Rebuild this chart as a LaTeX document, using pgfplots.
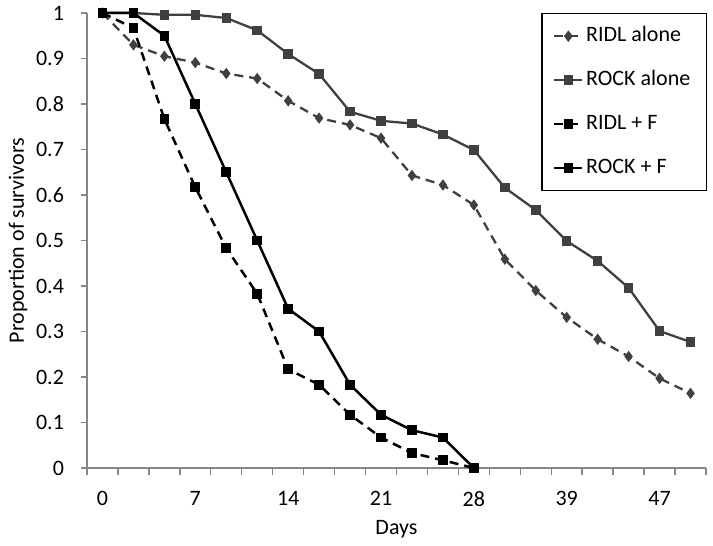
\documentclass[border=0pt]{standalone}
\usepackage{fontspec}
\setmainfont{Carlito}
\usepackage{pgfplots}
\pgfplotsset{compat=1.18}
\definecolor{axgray}{HTML}{868686}
\definecolor{sergray}{HTML}{404040}
\begin{document}
\begin{tikzpicture}[font=\fontsize{11pt}{13pt}\selectfont]
\begin{axis}[
  scale only axis,
  width=309.5pt, height=227.5pt,
  xmin=-0.5, xmax=19.5, ymin=0, ymax=1,
  axis x line=bottom, axis y line=left,
  axis line style={-, axgray, line width=0.7pt},
  xtick={0,3,6,9,12,15,18},
  xticklabels={0,7,14,21,28,39,47},
  minor xtick={-0.5,0.5,1.5,2.5,3.5,4.5,5.5,6.5,7.5,8.5,9.5,10.5,11.5,12.5,13.5,14.5,15.5,16.5,17.5,18.5,19.5},
  major x tick style={draw=none},
  minor x tick style={axgray, line width=0.7pt},
  ytick={0,0.1,0.2,0.3,0.4,0.5,0.6,0.7,0.8,0.9,1.0},
  yticklabels={0,0.1,0.2,0.3,0.4,0.5,0.6,0.7,0.8,0.9,1},
  y tick style={axgray, line width=0.7pt},
  tick align=outside,
  minor tick length=3.5pt,
  major tick length=3pt,
  tick label style={font=\fontsize{11pt}{13pt}\selectfont, black},
  xticklabel style={anchor=north, yshift=-5pt},
  yticklabel style={anchor=east, xshift=-5pt},
  xlabel={Days},
  ylabel={Proportion of survivors},
  label style={font=\fontsize{11pt}{13pt}\selectfont},
  xlabel style={at={(axis description cs:0.5,0)}, anchor=center, yshift=-30.5pt},
  ylabel style={at={(axis description cs:0,0.5)}, anchor=center, rotate=0, yshift=34.5pt},
  legend style={at={(1,1)}, anchor=north east, xshift=0.5pt,
    draw=black, line width=0.7pt, fill=white,
    font=\fontsize{11pt}{13pt}\selectfont,
    inner xsep=5.5pt, inner ysep=6pt, row sep=11.5pt,
    nodes={inner sep=0pt, text height=8pt, text depth=2.5pt},
    column sep=1.3pt},
  legend cell align=left,
  legend image code/.code={\draw[#1, line width=1.2pt, mark repeat=2, mark phase=2] plot coordinates {(0pt,0pt) (7pt,0pt) (14pt,0pt)};},
  every axis plot/.append style={line width=1.15pt},
  clip=false,
]
\addplot[sergray, dash pattern=on 4.5pt off 3pt, mark=diamond*, mark size=1.9pt, mark options={solid}] coordinates {
(0,1.0) (1,0.93) (2,0.905) (3,0.891) (4,0.867) (5,0.856) (6,0.807) (7,0.769) (8,0.754) (9,0.725)
(10,0.643) (11,0.622) (12,0.578) (13,0.459) (14,0.390) (15,0.331) (16,0.283) (17,0.245) (18,0.197) (19,0.164)};
\addlegendentry{RIDL alone}
\addplot[sergray, mark=square*, mark size=1.8pt, mark options={solid}] coordinates {
(0,1.0) (1,1.0) (2,0.996) (3,0.996) (4,0.989) (5,0.962) (6,0.910) (7,0.866) (8,0.783) (9,0.763)
(10,0.757) (11,0.733) (12,0.699) (13,0.616) (14,0.567) (15,0.499) (16,0.455) (17,0.396) (18,0.301) (19,0.277)};
\addlegendentry{ROCK alone\hspace*{2.5pt}}
\addplot[black, line width=1.25pt, dash pattern=on 4.5pt off 3pt, mark=square*, mark size=1.8pt, mark options={solid}] coordinates {
(0,1.0) (1,0.967) (2,0.767) (3,0.617) (4,0.483) (5,0.383) (6,0.217) (7,0.183) (8,0.117) (9,0.067)
(10,0.033) (11,0.017) (12,0.0)};
\addlegendentry{RIDL + F}
\addplot[black, line width=1.25pt, mark=square*, mark size=1.8pt, mark options={solid}] coordinates {
(0,1.0) (1,1.0) (2,0.95) (3,0.80) (4,0.65) (5,0.50) (6,0.35) (7,0.30) (8,0.183) (9,0.117)
(10,0.083) (11,0.067) (12,0.0)};
\addlegendentry{ROCK + F}
\coordinate (sw) at (rel axis cs:0,0);
\end{axis}
\pgfresetboundingbox
\useasboundingbox ([shift={(-43.5pt,-39pt)}]sw) rectangle ([shift={(313pt,234pt)}]sw);
\end{tikzpicture}
\end{document}
